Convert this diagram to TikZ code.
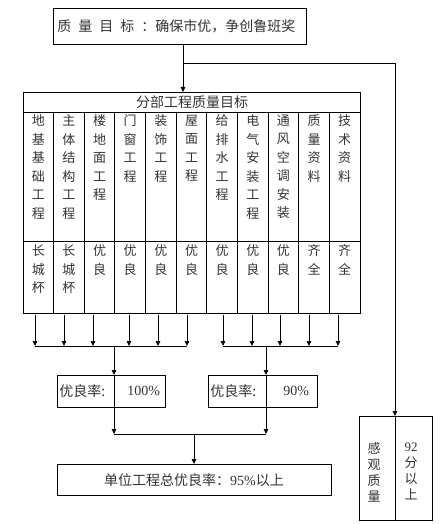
\documentclass[tikz,border=0pt]{standalone}
\usepackage{fontspec}
\setmainfont{Noto Sans CJK SC}
\newfontfamily\latinf{Liberation Serif}
\usetikzlibrary{arrows.meta}
\begin{document}
\begin{tikzpicture}[x=1pt,y=-1pt,line width=0.9pt,
  box/.style={draw,inner sep=0pt,outer sep=0pt},
  txt/.style={inner sep=0pt,text=black!80,font=\fontsize{13}{18.5}\selectfont,align=center},
  big/.style={inner sep=0pt,text=black!80,font=\fontsize{14}{16}\selectfont},
  arr/.style={-{Triangle[length=5pt,width=4.5pt]}}]
\useasboundingbox (0,0) rectangle (440,524);
% top goal
\node[box,minimum width=253pt,minimum height=36pt] (goal) at (179.5,26) {};
\node[big,anchor=west] (goaltxt) at (57,26) {质\hspace{7pt}量\hspace{7pt}目\hspace{7pt}标\hspace{7pt}：确保市优，争创鲁班奖};
% table header
\node[box,minimum width=337pt,minimum height=20pt] (hdr) at (191.5,102) {};
\node[big] (hdrtxt) at (192,102) {分部工程质量目标};
% columns
\foreach \i/\n/\r in {1/{地\\基\\基\\础\\工\\程}/{长\\城\\杯},
  2/{主\\体\\结\\构\\工\\程}/{长\\城\\杯},
  3/{楼\\地\\面\\工\\程}/{优\\良},
  4/{门\\窗\\工\\程}/{优\\良},
  5/{装\\饰\\工\\程}/{优\\良},
  6/{屋\\面\\工\\程}/{优\\良},
  7/{给\\排\\水\\工\\程}/{优\\良},
  8/{电\\气\\安\\装\\工\\程}/{优\\良},
  9/{通\\风\\空\\调\\安\\装}/{优\\良},
  10/{质\\量\\资\\料}/{齐\\全},
  11/{技\\术\\资\\料}/{齐\\全}}{
  \pgfmathsetmacro{\cx}{23+(\i-0.5)*30.636}
  \node[box,minimum width=30.636pt,minimum height=129pt] (c\i) at (\cx,176.5) {};
  \node[box,minimum width=30.636pt,minimum height=72pt] (r\i) at (\cx,277) {};
  \node[txt,anchor=north] (ct\i) at (\cx,114.5) {\n};
  \node[txt,anchor=north] (rt\i) at (\cx,244.5) {\r};
}
% rate boxes
\node[box,minimum width=108pt,minimum height=32pt] (b1) at (111,391) {};
\node[big,anchor=west] (b1a) at (59,391) {优良率:};
\node[big,anchor=west] (b1b) at (127,391) {\latinf 100\%};
\node[box,minimum width=109pt,minimum height=32pt] (b2) at (262.5,391) {};
\node[big,anchor=west] (b2a) at (210,391) {优良率:};
\node[big,anchor=west] (b2b) at (283,391) {\latinf 90\%};
% total box
\node[box,minimum width=274pt,minimum height=31pt] (tot) at (194,479.5) {};
\node[big] (tottxt) at (194,480) {单位工程总优良率：{\latinf 95\%}以上};
% sense box
\node[box,minimum width=73pt,minimum height=104pt] (sense) at (395.5,468) {};
\node[txt,anchor=north,font=\fontsize{13}{16}\selectfont] (sa) at (374,442) {感\\观\\质\\量};
\node[txt,anchor=north,font=\fontsize{13}{16}\selectfont] (sb) at (411,442) {{\latinf 92}\\分\\以\\上};
% connectors top
\coordinate (j1) at (183,63);
\coordinate (j2) at (395,63);
\draw[arr] (goal.south -| j1) -- (hdr.north -| j1);
\draw (j1) -- (j2);
\draw[arr] (j2) -- (sense.north -| j2);
\draw (sense.north -| j2) -- (sense.south -| j2);
% column arrows
\foreach \k/\x in {1/35,2/64,3/93,4/129,5/158,6/187,7/223,8/252,9/280,10/309,11/338}{
  \coordinate (s\k) at (\x,315);
  \coordinate (e\k) at (\x,346);
  \draw[arr] (s\k) -- (e\k);
}
\draw (e1) -- (e6);
\draw (e7) -- (e11);
\coordinate (m1) at (114,346);
\coordinate (m2) at (266,346);
\coordinate (n1) at (114,434);
\coordinate (n2) at (266,434);
\coordinate (n3) at (194,434);
\draw[arr] (m1) -- (b1.north -| m1);
\draw[arr] (m2) -- (b2.north -| m2);
\draw (b1.north -| m1) -- (b1.south -| m1);
\draw (b2.north -| m2) -- (b2.south -| m2);
\draw[arr] (b1.south -| m1) -- (n1);
\draw[arr] (b2.south -| m2) -- (n2);
\draw (n1) -- (n2);
\draw[arr] (n3) -- (tot.north -| n3);
\end{tikzpicture}
\end{document}
